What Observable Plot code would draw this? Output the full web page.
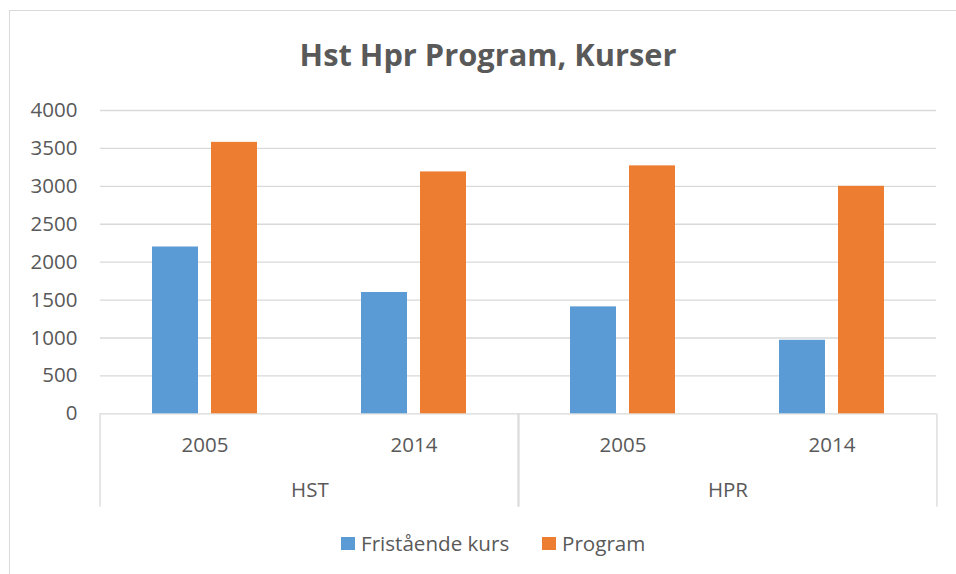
<!DOCTYPE html>
<html>
<head>
<meta charset="utf-8">
<script src="https://cdn.jsdelivr.net/npm/d3@7"></script>
<script src="https://cdn.jsdelivr.net/npm/@observablehq/plot@0.6"></script>
<style>
  html, body { margin: 0; padding: 0; background: #fff; }
  #wrap { position: relative; width: 956px; height: 574px; overflow: hidden; font-family: "Open Sans", sans-serif; color: #595959; }
  #border { position: absolute; left: 9px; top: 10px; width: 1000px; height: 1000px; border-left: 1px solid #d9d9d9; border-top: 1px solid #d9d9d9; }
  #title { position: absolute; left: 0; width: 976px; top: 38px; text-align: center; font-size: 30.8px; line-height: 33px; font-weight: 700; color: #595959; white-space: nowrap; }
  #chart { position: absolute; left: 0; top: 95px; }
  #legend { position: absolute; top: 529px; left: 0; width: 956px; height: 28px; }
  .li { position: absolute; top: 0; display: flex; align-items: center; font-size: 20.6px; line-height: 28px; white-space: nowrap; }
  .sw { width: 14px; height: 13px; margin-right: 6px; }
</style>
</head>
<body>
<div id="wrap">
  <div id="border"></div>
  <div id="title">Hst Hpr Program, Kurser</div>
  <div id="chart"></div>
  <div id="legend"></div>
</div>
<script>
// ---- data ----
const groups = ["HST", "HST", "HPR", "HPR"];
const years = ["2005", "2014", "2005", "2014"];
const seriesNames = ["Fristående kurs", "Program"];
const fristaende = [2200, 1600, 1410, 970];
const program = [3580, 3190, 3270, 3000];
const yTicks = [0, 500, 1000, 1500, 2000, 2500, 3000, 3500, 4000];
const colors = ["#5B9BD5", "#ED7D31"];

// ---- table built from the arrays ----
const cats = groups.map((g, i) => g + " " + years[i]);
const rows = [];
cats.forEach((c, i) => {
  rows.push({cat: c, group: groups[i], year: years[i], series: seriesNames[0], value: fristaende[i]});
  rows.push({cat: c, group: groups[i], year: years[i], series: seriesNames[1], value: program[i]});
});

const W = 956, H = 425;
const mL = 98, mR = 18.5, mT = 15, mB = 106.7;
const facetW = (W - mL - mR) / cats.length;
const grid = "#d9d9d9";

const chart = Plot.plot({
  width: W,
  height: H,
  marginLeft: mL,
  marginRight: mR,
  marginTop: mT,
  marginBottom: mB,
  style: {fontFamily: "Open Sans, sans-serif", fontSize: "20.5px", color: "#595959", background: "transparent"},
  facet: {data: rows, x: "cat"},
  fx: {domain: cats, padding: 0, axis: "bottom", tickSize: 0, tickPadding: 24, label: null,
       tickFormat: d => d.split(" ")[1]},
  x: {domain: seriesNames, paddingInner: 0.2167, paddingOuter: 0.856, align: 0.5, axis: null},
  y: {domain: [0, 4000], ticks: yTicks, tickSize: 0, tickPadding: 23, label: null, tickFormat: d => String(d)},
  color: {domain: seriesNames, range: colors},
  marks: [
    Plot.ruleY(yTicks, {stroke: grid, strokeWidth: 1.3}),
    Plot.barY(rows, {x: "series", y: "value", fill: "series"}),
    Plot.ruleX(rows, {filter: d => d.year === "2005" && d.series === seriesNames[0], x: null, dx: -facetW / 2,
      stroke: grid, strokeWidth: 1.3, insetTop: H - mT - mB, insetBottom: -93.4}),
    Plot.ruleX(rows, {filter: d => d.year === "2014" && d.series === seriesNames[0], x: null, dx: facetW / 2,
      stroke: grid, strokeWidth: 1.3, insetTop: H - mT - mB, insetBottom: -93.4}),
    Plot.text(rows, {filter: d => d.year === "2005" && d.series === seriesNames[0], text: "group",
      frameAnchor: "bottom", dx: facetW / 2, dy: 83, fill: "#595959", fontSize: 20.5})
  ]
});
document.getElementById("chart").appendChild(chart);

// ---- legend ----
const legend = document.getElementById("legend");
const legendX = [341, 542];
seriesNames.forEach((s, i) => {
  const item = document.createElement("div");
  item.className = "li";
  item.style.left = legendX[i] + "px";
  const sw = document.createElement("span");
  sw.className = "sw";
  sw.style.background = colors[i];
  const tx = document.createElement("span");
  tx.textContent = s;
  item.appendChild(sw);
  item.appendChild(tx);
  legend.appendChild(item);
});
</script>
</body>
</html>
